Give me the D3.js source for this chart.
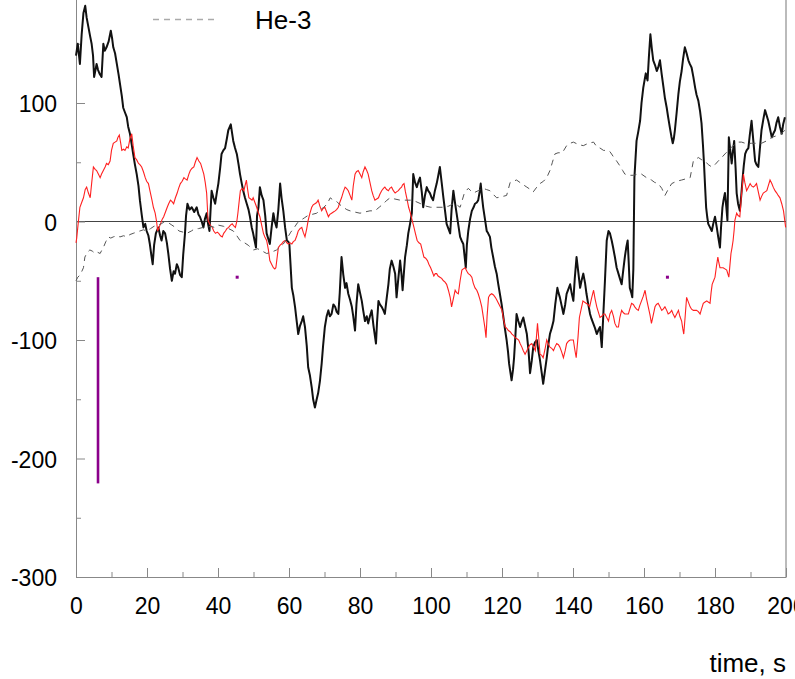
<!DOCTYPE html>
<html>
<head>
<meta charset="utf-8">
<script src="https://cdn.jsdelivr.net/npm/d3@7"></script>
<style>
  html, body { margin: 0; padding: 0; background: #fff; }
  .chart { width: 795px; height: 679px; overflow: hidden; }
  text { font-family: "Liberation Sans", Arial, sans-serif; fill: #000; }
</style>
</head>
<body>
<div class="chart"></div>
<script>
// ticks and labels
const xTicks = [0, 20, 40, 60, 80, 100, 120, 140, 160, 180, 200];
const xMinorTicks = [10, 30, 50, 70, 90, 110, 130, 150, 170, 190];
const yTicks = [-300, -200, -100, 0, 100];
const yMinorTicks = [-250, -150, -50, 50, 150];
const xTitle = 'time, s';
const legendLabel = 'He-3';

// black trace, [time, value]
const blackSeries = [[0.0,140],[0.5,150],[1.1,133],[1.6,158],[2.1,176],[2.6,182],[3.0,172],[3.5,164],[4.0,156],[4.4,150],[4.8,140],[5.1,122],[5.5,128],[5.8,133],[6.2,128],[6.6,125],[7.2,122],[7.7,150],[8.1,144],[8.6,147],[9.2,152],[9.8,161],[10.2,154],[10.5,147],[11.0,142],[11.5,133],[12.0,124],[12.4,116],[12.9,106],[13.3,96],[13.8,92],[14.3,88],[14.7,80],[15.2,74],[15.7,65],[16.1,57],[16.6,48],[17.1,40],[17.6,30],[18.0,18],[18.5,6],[19.0,-5],[19.5,-2],[19.9,-8],[20.4,-12],[20.8,-19],[21.2,-28],[21.6,-36],[22.0,-20],[22.5,-10],[23.2,-5],[23.7,-12],[24.1,-16],[24.6,-8],[25.1,-10],[25.6,-18],[26.0,-27],[26.5,-40],[27.0,-50],[27.5,-42],[27.9,-44],[28.4,-36],[28.8,-39],[29.3,-45],[29.8,-47],[30.2,-28],[30.7,-10],[31.0,5],[31.4,15],[32.0,10],[32.6,12],[33.3,8],[34.0,12],[34.5,6],[34.9,4],[35.4,0],[35.9,-5],[36.3,2],[36.8,7],[37.2,-2],[37.6,-8],[38.2,26],[38.7,20],[39.2,15],[39.7,25],[40.1,32],[40.6,45],[41.0,57],[41.5,60],[42.0,62],[42.5,70],[42.9,77],[43.6,82],[44.0,74],[44.3,68],[44.8,62],[45.3,57],[45.8,48],[46.2,40],[46.7,32],[47.1,26],[47.6,20],[48.1,15],[48.6,10],[49.0,4],[49.5,-5],[49.9,-10],[50.3,-16],[50.7,-22],[51.0,5],[51.4,12],[51.8,29],[52.3,22],[52.8,18],[53.3,5],[53.7,-10],[54.2,-15],[54.6,-19],[55.1,-5],[55.6,7],[56.0,0],[56.5,-5],[57.0,10],[57.5,32],[57.9,20],[58.4,9],[58.9,-5],[59.4,-16],[59.8,-17],[60.1,-19],[60.5,-40],[60.8,-56],[61.2,-62],[61.7,-72],[62.2,-85],[62.6,-95],[63.1,-88],[63.6,-84],[64.0,-80],[64.5,-89],[65.0,-105],[65.4,-123],[65.9,-130],[66.4,-140],[66.8,-150],[67.3,-157],[67.8,-150],[68.2,-145],[68.7,-135],[69.2,-120],[69.6,-105],[70.1,-89],[70.6,-80],[71.1,-75],[71.5,-80],[72.0,-78],[72.5,-70],[73.0,-72],[73.4,-76],[73.9,-78],[74.3,-60],[74.8,-30],[75.3,-45],[75.8,-56],[76.2,-52],[76.7,-61],[77.2,-66],[77.7,-72],[78.1,-80],[78.6,-92],[79.0,-70],[79.5,-53],[80.0,-60],[80.5,-67],[80.9,-75],[81.4,-84],[81.9,-80],[82.3,-86],[82.8,-80],[83.3,-75],[83.8,-88],[84.5,-103],[84.8,-85],[85.2,-67],[85.6,-70],[86.1,-72],[86.6,-75],[87.0,-78],[87.5,-65],[88.0,-53],[88.4,-40],[88.9,-33],[89.4,-38],[89.9,-44],[90.3,-64],[90.8,-48],[91.3,-33],[91.7,-45],[92.0,-58],[92.4,-42],[92.7,-30],[93.2,-20],[93.6,-10],[94.1,-2],[94.6,7],[95.0,40],[95.5,33],[96.0,29],[96.5,34],[96.9,37],[97.4,25],[97.8,12],[98.3,22],[98.8,29],[99.2,26],[99.7,24],[100.2,20],[100.6,18],[101.1,26],[101.6,32],[102.0,38],[102.5,46],[103.0,33],[103.5,20],[104.0,8],[104.4,-2],[104.9,-6],[105.4,-10],[105.8,10],[106.3,26],[106.8,15],[107.2,7],[107.7,-3],[108.2,-13],[108.6,-16],[109.1,-19],[109.8,-39],[110.1,-20],[110.5,-8],[111.0,2],[111.5,9],[112.0,12],[112.4,15],[112.9,16],[113.3,18],[113.7,25],[114.0,32],[114.4,20],[114.7,12],[115.2,2],[115.7,-8],[116.1,-10],[116.6,-13],[117.0,-22],[117.5,-30],[118.0,-38],[118.5,-44],[118.9,-52],[119.4,-61],[119.9,-70],[120.4,-81],[120.8,-90],[121.3,-100],[121.7,-110],[122.0,-120],[122.4,-128],[122.7,-134],[123.1,-125],[123.4,-115],[123.8,-95],[124.1,-78],[124.6,-84],[125.1,-89],[125.5,-85],[126.0,-81],[126.5,-88],[127.0,-95],[127.5,-110],[127.9,-128],[128.4,-117],[128.8,-106],[129.3,-102],[129.8,-100],[130.2,-108],[130.7,-117],[131.2,-128],[131.6,-137],[132.1,-126],[132.6,-115],[133.0,-105],[133.5,-95],[134.0,-90],[134.5,-84],[135.0,-70],[135.6,-56],[135.9,-60],[136.3,-64],[136.8,-71],[137.3,-78],[137.8,-70],[138.2,-61],[138.7,-57],[139.2,-53],[139.6,-60],[140.1,-67],[140.5,-48],[141.0,-30],[141.5,-43],[142.0,-56],[142.4,-50],[142.9,-44],[143.4,-52],[143.8,-61],[144.3,-70],[144.8,-78],[145.2,-82],[145.7,-86],[146.2,-90],[146.7,-95],[147.1,-92],[147.6,-89],[148.1,-106],[148.5,-81],[149.0,-50],[149.5,-16],[150.0,-8],[150.4,-10],[150.9,-16],[151.3,-22],[151.8,-30],[152.3,-39],[152.8,-44],[153.2,-48],[153.7,-53],[154.2,-40],[154.6,-30],[155.0,-22],[155.4,-16],[155.7,-35],[156.0,-56],[156.4,-60],[156.7,-64],[157.0,-40],[157.3,37],[157.9,68],[158.4,76],[158.9,85],[159.3,100],[159.8,113],[160.2,120],[160.5,125],[161.0,119],[161.4,140],[161.8,158],[162.2,146],[162.6,136],[163.1,132],[163.6,127],[164.0,130],[164.5,136],[165.0,124],[165.5,113],[165.9,104],[166.4,96],[166.8,88],[167.3,79],[167.7,72],[168.1,66],[168.4,70],[168.7,77],[169.2,92],[169.7,108],[170.1,118],[170.6,127],[171.0,137],[171.5,147],[172.0,142],[172.5,136],[172.9,133],[173.4,130],[173.9,122],[174.4,113],[174.8,107],[175.3,102],[175.8,93],[176.2,83],[176.6,65],[176.9,49],[177.2,30],[177.5,12],[177.8,4],[178.1,-2],[178.6,-5],[179.1,-8],[179.5,-2],[180.0,4],[180.5,-5],[180.9,-13],[181.4,-22],[181.7,-5],[182.1,12],[182.4,18],[182.8,24],[183.2,12],[183.5,1],[183.9,71],[184.3,60],[184.7,49],[185.0,58],[185.4,68],[185.8,45],[186.1,24],[186.5,15],[187.0,9],[187.4,22],[187.8,37],[188.1,47],[188.5,57],[188.9,60],[189.4,62],[189.8,73],[190.3,85],[190.8,68],[191.3,51],[191.7,48],[192.2,46],[192.6,60],[193.1,77],[193.6,86],[194.1,94],[194.5,90],[195.0,85],[195.5,78],[196.0,71],[196.4,74],[196.9,77],[197.3,83],[197.8,88],[198.3,80],[198.8,74],[199.2,82],[199.7,88]];

// red trace
const redSeries = [[0.0,-18],[0.2,-14],[0.6,-2],[1.1,12],[1.6,16],[2.1,20],[2.6,27],[3.0,29],[3.5,24],[4.0,20],[4.4,32],[4.9,46],[5.4,44],[5.8,43],[6.3,40],[6.8,37],[7.2,40],[7.7,43],[8.2,46],[8.6,49],[9.1,48],[9.6,51],[10.0,60],[10.5,66],[11.0,67],[11.5,68],[11.8,71],[12.2,73],[12.6,66],[12.9,60],[13.4,61],[13.8,60],[14.3,63],[14.7,62],[15.2,70],[15.7,74],[16.1,64],[16.6,54],[17.1,52],[17.6,49],[18.0,48],[18.5,46],[19.0,42],[19.5,37],[19.9,34],[20.4,32],[20.9,25],[21.4,18],[21.8,12],[22.3,7],[22.7,0],[23.0,-8],[23.4,-5],[23.8,-2],[24.3,2],[24.7,4],[25.2,8],[25.7,12],[26.1,15],[26.6,18],[27.0,17],[27.5,15],[28.0,20],[28.5,24],[28.9,28],[29.4,32],[29.9,34],[30.4,37],[30.8,36],[31.3,35],[31.8,40],[32.2,43],[32.7,45],[33.2,46],[33.6,50],[34.1,54],[34.6,51],[35.1,49],[35.5,45],[36.0,40],[36.4,33],[36.8,24],[37.2,1],[37.8,-3],[38.4,-5],[38.8,-8],[39.3,-10],[39.8,-9],[40.2,-10],[40.7,-12],[41.2,-13],[41.6,-10],[42.1,-8],[42.5,-6],[43.0,-5],[43.5,-3],[44.0,-2],[44.5,-4],[44.9,-5],[45.3,0],[45.6,7],[46.0,18],[46.3,26],[46.8,28],[47.3,26],[47.6,30],[48.0,35],[48.3,28],[48.7,20],[49.2,19],[49.6,18],[49.9,20],[50.4,16],[50.9,12],[51.3,8],[51.8,4],[52.3,-3],[52.8,-10],[53.2,-13],[53.7,-16],[54.2,-24],[54.6,-33],[55.1,-36],[55.6,-39],[56.0,-40],[56.3,-39],[57.0,-22],[57.5,-20],[57.9,-19],[58.4,-17],[58.9,-16],[59.4,-18],[59.8,-19],[60.3,-18],[60.8,-19],[61.2,-17],[61.7,-16],[62.2,-12],[62.6,-8],[63.1,-6],[63.6,-5],[64.0,-9],[64.5,-13],[65.0,-6],[65.4,1],[65.9,7],[66.4,12],[66.8,14],[67.3,15],[67.8,16],[68.2,18],[68.7,13],[69.2,9],[69.6,11],[70.1,12],[70.6,8],[71.1,4],[71.5,6],[72.0,7],[72.5,8],[73.0,9],[73.4,10],[73.9,12],[74.3,16],[74.8,20],[75.3,25],[75.8,29],[76.2,28],[76.7,26],[77.2,22],[77.7,18],[78.1,30],[78.6,40],[79.0,42],[79.5,43],[80.0,40],[80.5,37],[80.9,42],[81.4,46],[81.9,43],[82.3,40],[82.8,33],[83.3,26],[83.7,22],[84.2,18],[84.7,19],[85.2,20],[85.6,23],[86.1,26],[86.6,28],[87.0,29],[87.5,27],[88.0,26],[88.4,28],[88.9,29],[89.4,26],[89.9,24],[90.3,25],[90.8,26],[91.3,28],[91.7,29],[92.0,31],[92.4,32],[92.8,25],[93.3,18],[93.7,12],[94.2,7],[94.7,1],[95.2,-5],[95.6,-10],[96.1,-16],[96.6,-18],[97.1,-19],[97.5,-24],[98.0,-30],[98.5,-31],[99.0,-33],[99.4,-36],[99.9,-39],[100.3,-42],[100.8,-46],[101.2,-44],[101.6,-44],[102.0,-46],[102.5,-47],[103.0,-48],[103.5,-50],[103.9,-51],[104.4,-53],[104.9,-58],[105.4,-64],[105.8,-72],[106.3,-65],[106.8,-58],[107.2,-60],[107.7,-61],[108.2,-50],[108.7,-41],[109.1,-40],[109.6,-39],[110.1,-42],[110.5,-44],[111.0,-45],[111.5,-47],[111.9,-52],[112.4,-56],[112.9,-58],[113.3,-61],[113.8,-66],[114.3,-72],[114.6,-78],[114.9,-84],[115.2,-90],[115.5,-98],[115.8,-80],[116.2,-64],[116.6,-62],[117.1,-61],[117.6,-62],[118.1,-64],[118.5,-66],[119.0,-69],[119.5,-72],[120.0,-75],[120.4,-82],[120.9,-89],[121.3,-90],[121.8,-92],[122.3,-93],[122.8,-95],[123.2,-96],[123.7,-98],[124.2,-99],[124.7,-100],[125.1,-103],[125.6,-106],[126.0,-109],[126.5,-112],[127.0,-109],[127.5,-106],[127.9,-104],[128.4,-103],[128.9,-106],[129.4,-109],[130.0,-86],[130.4,-100],[130.7,-112],[131.2,-113],[131.6,-115],[132.1,-108],[132.6,-100],[133.0,-103],[133.5,-106],[134.0,-107],[134.5,-109],[134.9,-106],[135.4,-103],[135.9,-104],[136.3,-106],[136.8,-110],[137.3,-115],[137.8,-109],[138.2,-103],[138.7,-101],[139.2,-100],[139.6,-100],[140.1,-100],[140.5,-108],[140.9,-115],[141.4,-98],[141.8,-81],[142.3,-74],[142.8,-67],[143.2,-68],[143.7,-69],[144.2,-70],[144.7,-72],[145.2,-65],[145.8,-58],[146.2,-65],[146.7,-72],[147.1,-76],[147.6,-81],[148.1,-80],[148.6,-78],[149.0,-78],[149.5,-81],[150.0,-84],[150.4,-78],[150.9,-75],[151.4,-80],[151.8,-86],[152.3,-89],[152.8,-89],[153.2,-81],[153.7,-75],[154.2,-77],[154.6,-78],[155.1,-78],[155.6,-78],[156.0,-74],[156.5,-69],[157.0,-70],[157.4,-72],[157.9,-74],[158.4,-75],[158.8,-71],[159.3,-67],[159.8,-63],[160.3,-58],[160.7,-65],[161.2,-72],[161.7,-79],[162.1,-86],[162.6,-79],[163.1,-72],[163.5,-70],[164.0,-69],[164.5,-72],[165.0,-75],[165.4,-74],[165.9,-72],[166.4,-75],[166.8,-78],[167.3,-77],[167.8,-75],[168.2,-78],[168.7,-81],[169.2,-78],[169.7,-75],[170.1,-80],[170.6,-84],[170.9,-90],[171.2,-95],[171.6,-80],[172.0,-64],[172.5,-68],[173.0,-72],[173.4,-74],[173.9,-75],[174.4,-75],[174.8,-75],[175.3,-76],[175.8,-78],[176.2,-74],[176.7,-69],[177.2,-68],[177.7,-67],[178.1,-68],[178.6,-69],[178.9,-60],[179.2,-53],[179.6,-50],[180.0,-47],[180.4,-38],[180.8,-30],[181.1,-35],[181.4,-39],[181.9,-39],[182.3,-39],[182.8,-40],[183.3,-41],[183.9,-47],[184.2,-37],[184.5,-27],[184.8,-22],[185.1,-16],[185.4,-7],[185.6,1],[186.1,7],[186.5,5],[187.0,4],[187.5,24],[188.0,40],[188.4,33],[188.9,26],[189.4,29],[189.9,32],[190.3,30],[190.8,29],[191.2,30],[191.7,32],[192.2,25],[192.7,18],[193.1,21],[193.6,24],[194.1,25],[194.6,26],[195.0,30],[195.5,35],[196.0,32],[196.4,29],[196.9,26],[197.4,24],[197.8,22],[198.3,20],[198.8,15],[199.3,9],[199.6,2],[199.9,-5]];

// He-3, the dashed one
const he3Series = [[0.0,-50],[0.5,-47],[1.2,-45],[2.1,-39],[2.5,-30],[3.2,-26],[3.9,-24],[4.6,-25],[5.4,-27],[6.1,-26],[6.8,-27],[7.3,-24],[7.7,-22],[8.4,-17],[9.1,-13],[9.8,-14],[10.5,-13],[11.5,-12],[12.4,-13],[13.4,-12],[14.3,-13],[15.2,-11],[16.1,-10],[17.0,-9],[18.0,-8],[19.0,-7],[19.9,-8],[21.0,-6],[22.0,-4],[23.0,-3],[24.0,-2],[25.0,0],[26.0,-1],[27.0,-3],[28.0,-5],[29.0,-8],[30.2,-9],[31.2,-10],[32.5,-8],[33.5,-6],[34.5,-6],[35.8,-5],[36.8,-5],[38.0,-4],[39.0,-5],[40.0,-3],[41.5,-4],[43.0,-6],[44.3,-8],[45.3,-12],[46.2,-16],[47.5,-18],[48.5,-20],[50.0,-24],[51.2,-23],[52.5,-25],[53.7,-27],[55.0,-26],[56.5,-24],[58.4,-19],[59.5,-14],[60.5,-9],[61.5,-5],[62.4,-1],[63.3,1],[64.3,3],[65.3,5],[66.5,6],[67.8,7],[68.8,10],[69.8,12],[70.8,15],[71.6,20],[72.5,18],[73.4,17],[74.4,14],[75.3,12],[76.3,10],[77.2,9],[78.5,8],[80.0,7],[81.3,8],[82.8,9],[84.2,9],[85.4,12],[86.6,15],[87.6,18],[88.5,20],[89.8,19],[91.3,18],[92.7,18],[94.2,18],[95.6,17],[97.1,15],[98.6,13],[99.9,12],[101.5,12],[103.5,12],[105.0,13],[106.3,15],[107.3,14],[108.2,12],[108.8,18],[109.4,24],[110.5,28],[111.2,26],[111.9,24],[113.3,26],[114.7,28],[115.6,27],[116.6,26],[117.5,23],[118.5,20],[120.0,21],[121.3,22],[122.3,33],[123.2,34],[124.1,35],[125.5,32],[127.0,29],[128.0,27],[128.8,25],[129.8,29],[130.7,32],[131.7,34],[132.6,37],[133.5,43],[134.2,50],[134.9,57],[135.8,58],[137.0,58],[138.2,64],[139.2,66],[140.1,67],[141.5,65],[142.9,64],[144.3,66],[145.8,67],[146.7,63],[147.6,62],[148.6,60],[149.5,60],[150.4,59],[151.3,55],[152.3,51],[153.2,47],[154.0,43],[154.6,40],[155.8,39],[157.0,39],[158.2,40],[159.3,40],[160.7,37],[162.1,35],[163.0,33],[164.0,32],[165.0,28],[165.9,22],[166.8,27],[167.8,32],[169.2,34],[170.6,35],[171.8,36],[173.0,37],[173.9,51],[175.3,54],[176.3,52],[177.2,51],[178.1,48],[179.1,46],[180.0,48],[180.9,51],[181.9,54],[182.8,57],[183.8,60],[184.7,63],[185.6,65],[186.6,67],[187.5,67],[188.5,66],[189.4,66],[190.3,66],[191.7,66],[193.1,66],[194.5,68],[196.0,71],[197.0,72],[198.0,73],[199.0,75],[199.7,77]];

// purple bits: one vertical bar and a couple of dots
const purpleBar = [[6.2, -47], [6.2, -221]];
const purpleDots = [[45.4, -47], [166.6, -47]];

const width = 795;
const height = 679;

let svg = d3.select('.chart').append('svg').attr('width', width).attr('height', height);

// top of the plot sits a bit above the window, like the original crop
const x = d3.scaleLinear().domain([0, 200]).range([76, 786]);
const y = d3.scaleLinear().domain([-300, 200]).range([577, -15.5]);

const line = d3.line().x(d => x(d[0])).y(d => y(d[1]));

// plain hyphen for negatives, not the unicode minus
const plainFormat = d => String(d);

// right frame edge
svg.append('line')
    .attr('x1', x(200)).attr('x2', x(200))
    .attr('y1', y(-300)).attr('y2', 0)
    .attr('stroke', '#bbb').attr('stroke-width', 2);

// zero line
svg.append('line')
    .attr('x1', x(0)).attr('x2', x(200))
    .attr('y1', y(0)).attr('y2', y(0))
    .attr('stroke', '#444').attr('stroke-width', 1);

// axes, ticks point inwards
let yAxis = svg.append('g').attr('transform', `translate(${x(0)},0)`)
    .call(d3.axisLeft(y).tickValues(yTicks).tickFormat(plainFormat).tickSize(-9).tickSizeOuter(0).tickPadding(19));
let yMinor = svg.append('g').attr('transform', `translate(${x(0)},0)`)
    .call(d3.axisLeft(y).tickValues(yMinorTicks).tickSize(-5).tickSizeOuter(0).tickFormat(''));
let xAxis = svg.append('g').attr('transform', `translate(0,${y(-300)})`)
    .call(d3.axisBottom(x).tickValues(xTicks).tickFormat(plainFormat).tickSize(-9).tickSizeOuter(0).tickPadding(21));
let xMinor = svg.append('g').attr('transform', `translate(0,${y(-300)})`)
    .call(d3.axisBottom(x).tickValues(xMinorTicks).tickSize(-5).tickSizeOuter(0).tickFormat(''));

yMinor.select('.domain').remove();
xMinor.select('.domain').remove();
svg.selectAll('.domain').attr('stroke', '#888');
svg.selectAll('.tick line').attr('stroke', '#888');
svg.selectAll('.tick text')
    .style('font-family', '"Liberation Sans", Arial, sans-serif')
    .style('font-size', '23px')
    .attr('fill', '#000');
yAxis.selectAll('.tick text').attr('dy', '0.37em');

// the traces
svg.append('path').datum(blackSeries)
    .attr('d', line)
    .attr('fill', 'none').attr('stroke', '#111').attr('stroke-width', 2)
    .attr('stroke-linejoin', 'round');

svg.append('path').datum(redSeries)
    .attr('d', line)
    .attr('fill', 'none').attr('stroke', '#ff2020').attr('stroke-width', 1.1);

svg.append('path').datum(he3Series)
    .attr('d', line)
    .attr('fill', 'none').attr('stroke', '#555').attr('stroke-width', 1)
    .attr('stroke-dasharray', '6,5');

svg.append('path').datum(purpleBar)
    .attr('d', line)
    .attr('fill', 'none').attr('stroke', '#8b008b').attr('stroke-width', 2.6);

svg.selectAll('rect.dot').data(purpleDots).join('rect')
    .attr('class', 'dot')
    .attr('x', d => x(d[0]) - 1.5).attr('y', d => y(d[1]) - 1.5)
    .attr('width', 3).attr('height', 3)
    .attr('fill', '#8b008b');

// legend entry
svg.append('line')
    .attr('x1', 153).attr('x2', 219).attr('y1', 19.5).attr('y2', 19.5)
    .attr('stroke', '#aaa').attr('stroke-width', 1.5).attr('stroke-dasharray', '6,5');
svg.append('text')
    .attr('x', 255).attr('y', 29)
    .style('font-size', '26px')
    .text(legendLabel);

// axis title
svg.append('text')
    .attr('x', 786).attr('y', 672)
    .attr('text-anchor', 'end')
    .style('font-size', '26px')
    .text(xTitle);
</script>
</body>
</html>
